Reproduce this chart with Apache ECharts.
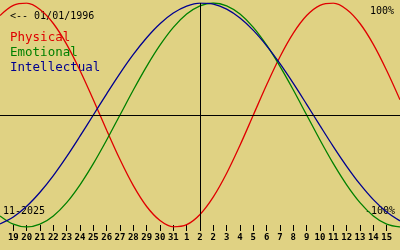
<!DOCTYPE html>
<html><head><meta charset="utf-8">
<script src="https://cdn.jsdelivr.net/npm/echarts@6/dist/echarts.min.js"></script>
<style>html,body{margin:0;padding:0;background:#e0d283;}#c{width:400px;height:250px;}</style>
</head><body><div id="c"></div>
<script>
// day positions 0..30 (tick slots 1..29)
const days = [0,1,2,3,4,5,6,7,8,9,10,11,12,13,14,15,16,17,18,19,20,21,22,23,24,25,26,27,28,29,30];
const tickLabels = ['19','20','21','22','23','24','25','26','27','28','29','30','31','1','2','2','3','4','5','6','7','8','9','10','11','12','13','14','15'];
const physical = [0.888,0.979,0.998,0.942,0.817,0.631,0.398,0.136,-0.136,-0.398,-0.631,-0.817,-0.942,-0.998,-0.979,-0.888,-0.731,-0.520,-0.270,0,0.270,0.520,0.731,0.888,0.979,0.998,0.942,0.817,0.631,0.398,0.136];
const emotional = [-0.901,-0.975,-1,-0.975,-0.901,-0.782,-0.623,-0.434,-0.223,0,0.223,0.434,0.623,0.782,0.901,0.975,1,0.975,0.901,0.782,0.623,0.434,0.223,0,-0.223,-0.434,-0.623,-0.782,-0.901,-0.975,-1];
const intellectual = [-0.972,-0.910,-0.815,-0.690,-0.541,-0.372,-0.189,0,0.189,0.372,0.541,0.690,0.815,0.910,0.972,0.999,0.990,0.945,0.866,0.756,0.618,0.458,0.282,0.095,-0.095,-0.282,-0.458,-0.618,-0.756,-0.866,-0.945];
const todayPos = 15;

const colors = {Physical:'#e00000', Emotional:'#008000', Intellectual:'#000090'};
const mono = '"DejaVu Sans Mono", "Liberation Mono", monospace';
const tickVals = tickLabels.map((_, i) => i + 1);

function mk(name, vals) {
  return {
    name, type:'line', smooth:0.35, symbol:'none', animation:false,
    data: days.map((d,i)=>[d, vals[i]]),
    lineStyle:{color:colors[name], width:1.3}
  };
}
const series = [mk('Physical', physical), mk('Emotional', emotional), mk('Intellectual', intellectual)];
series[0].markLine = {silent:true, symbol:'none', label:{show:false}, animation:false,
    lineStyle:{color:'#000', width:1, type:'solid'},
    data:[{yAxis:0}, {xAxis:todayPos}]};

const chart = echarts.init(document.getElementById('c'), null, {renderer:'canvas'});
chart.setOption({
  backgroundColor:'#e0d283',
  animation:false,
  grid:{left:0, right:0, top:3, bottom:23},
  xAxis:{type:'value', min:0, max:30, interval:1, offset:-2,
    axisLine:{show:false, onZero:false},
    axisTick:{show:true, length:6, customValues:tickVals, lineStyle:{color:'#000', width:1}},
    axisLabel:{show:true, customValues:tickVals, margin:8, fontFamily:mono, fontSize:9, fontWeight:'bold', color:'#000',
      formatter:v=>tickLabels[v-1]},
    splitLine:{show:false}},
  yAxis:{type:'value', min:-1, max:1, show:false},
  series,
  graphic:[
    {type:'text', left:10, top:11, style:{text:'<-- 01/01/1996', font:'10px '+mono, fill:'#000'}},
    {type:'text', left:10, top:31, style:{text:'Physical', font:'12.5px '+mono, fill:colors.Physical}},
    {type:'text', left:10, top:46, style:{text:'Emotional', font:'12.5px '+mono, fill:colors.Emotional}},
    {type:'text', left:10, top:61, style:{text:'Intellectual', font:'12.5px '+mono, fill:colors.Intellectual}},
    {type:'text', right:6, top:6, style:{text:'100%', font:'10px '+mono, fill:'#000'}},
    {type:'text', right:5, top:206, style:{text:'-100%', font:'10px '+mono, fill:'#000'}},
    {type:'text', left:3, top:206, style:{text:'11-2025', font:'10px '+mono, fill:'#000'}}
  ]
});
</script></body></html>
